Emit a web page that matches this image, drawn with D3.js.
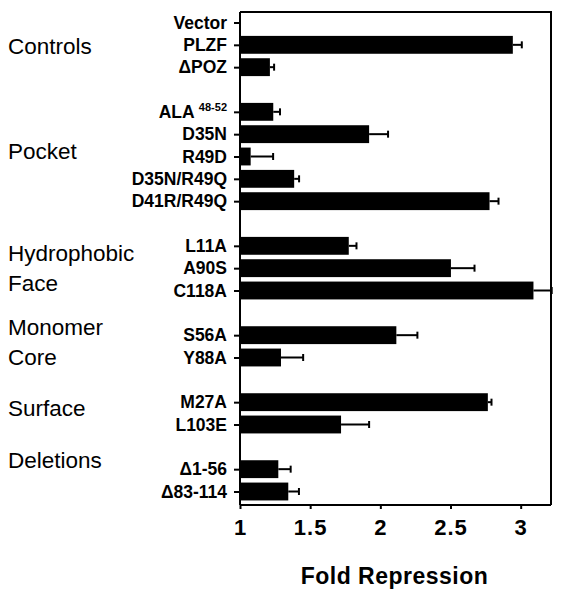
<!DOCTYPE html>
<html>
<head>
<meta charset="utf-8">
<script src="https://cdn.jsdelivr.net/npm/d3@7"></script>
<style>
  html, body { margin: 0; padding: 0; background: #fff; }
  svg { display: block; font-family: "Liberation Sans", Arial, Helvetica, sans-serif; }
</style>
</head>
<body>
<svg id="chart" width="563" height="598"></svg>
<script>
// ---- data ----
const labels = ["Vector", "PLZF", "ΔPOZ", "ALA", "D35N", "R49D", "D35N/R49Q", "D41R/R49Q",
  "L11A", "A90S", "C118A", "S56A", "Y88A", "M27A", "L103E", "Δ1-56", "Δ83-114"];
const values = [1.0, 2.944, 1.213, 1.237, 1.92, 1.076, 1.386, 2.778,
  1.775, 2.503, 3.091, 2.114, 1.292, 2.766, 1.72, 1.273, 1.344];
const errors = [0, 0.064, 0.03, 0.048, 0.135, 0.16, 0.035, 0.064,
  0.055, 0.168, 0.13, 0.15, 0.158, 0.026, 0.2, 0.088, 0.076];
const groupNames = [["Controls"], ["Pocket"], ["Hydrophobic", "Face"], ["Monomer", "Core"], ["Surface"], ["Deletions"]];
const groupSizes = [3, 5, 3, 2, 2, 2];
const xTicks = [1, 1.5, 2, 2.5, 3];
const xTitle = "Fold Repression";

// ---- layout ----
const frame = { left: 240, right: 551, top: 12, bottom: 505 };
const groupLabelSlot = [1.05, 5.75, 11.0, 14.3, 17.25, 19.6];

// slot index per row (one empty slot between groups)
const slots = [];
let s = 0;
groupSizes.forEach((n, g) => {
  for (let i = 0; i < n; i++) slots.push(s++);
  s++;
});
const nSlots = s - 1; // last gap not counted

const svg = d3.select("#chart");
const x = d3.scaleLinear().domain([1, 3.216]).range([frame.left, frame.right]);
const y = d3.scaleLinear().domain([0, nSlots - 1]).range([22.5, 491.5]);
const step = y(1) - y(0);
const barH = step * 0.8;

const rows = labels.map((l, i) => ({ label: l, value: values[i], err: errors[i], slot: slots[i] }));

// bars
svg.append("g").selectAll("rect").data(rows.filter(d => d.value > 1)).join("rect")
  .attr("x", x(1))
  .attr("y", d => y(d.slot) - barH / 2)
  .attr("width", d => x(d.value) - x(1))
  .attr("height", barH)
  .attr("fill", "#000");

// error bars
const eg = svg.append("g").attr("stroke", "#000").attr("stroke-width", 2);
rows.filter(d => d.err > 0).forEach(d => {
  eg.append("line")
    .attr("x1", x(d.value)).attr("x2", x(d.value + d.err))
    .attr("y1", y(d.slot)).attr("y2", y(d.slot));
  eg.append("line")
    .attr("x1", x(d.value + d.err)).attr("x2", x(d.value + d.err))
    .attr("y1", y(d.slot) - 3.5).attr("y2", y(d.slot) + 3.5);
});

// frame (top and right)
svg.append("path")
  .attr("d", `M${frame.left},${frame.top}H${frame.right}V${frame.bottom}`)
  .attr("fill", "none").attr("stroke", "#000").attr("stroke-width", 2);

// bottom axis
const xAxis = svg.append("g")
  .attr("transform", `translate(0,${frame.bottom})`)
  .call(d3.axisBottom(x).tickValues(xTicks).tickSize(4).tickPadding(10).tickFormat(d3.format("")))
  .call(g => g.select(".domain").attr("stroke-width", 2).attr("d", `M${frame.left},0H${frame.right}`))
  .call(g => g.selectAll(".tick line").attr("stroke-width", 2));
xAxis.selectAll(".tick text")
  .attr("font-size", 22).attr("font-weight", "bold").attr("font-family", "Liberation Sans, Arial, sans-serif")
  .attr("fill", "#000").attr("letter-spacing", 1);

// left axis
const yAxis = svg.append("g")
  .attr("transform", `translate(${frame.left},0)`)
  .call(d3.axisLeft(y).tickValues(slots).tickSize(6).tickPadding(7)
    .tickFormat(v => labels[slots.indexOf(v)]))
  .call(g => g.select(".domain").attr("stroke-width", 2).attr("d", `M0,${frame.top}V${frame.bottom}`))
  .call(g => g.selectAll(".tick line").attr("stroke-width", 2));
yAxis.selectAll(".tick text")
  .attr("font-size", 17.5).attr("font-weight", "bold").attr("font-family", "Liberation Sans, Arial, sans-serif")
  .attr("fill", "#000");
// ALA superscript
yAxis.selectAll(".tick text").filter(v => labels[slots.indexOf(v)] === "ALA")
  .text(null)
  .call(t => {
    t.append("tspan").text("ALA ");
    t.append("tspan").attr("font-size", 11).attr("dy", "-0.6em").text("48-52");
  });

// group labels
groupNames.forEach((lines, g) => {
  const cy = y(groupLabelSlot[g]);
  const t = svg.append("text")
    .attr("x", 8).attr("font-size", 22.5).attr("fill", "#000");
  lines.forEach((ln, k) => {
    t.append("tspan").attr("x", 8)
      .attr("y", cy + (k - (lines.length - 1) / 2) * 30)
      .attr("dy", "0.35em").text(ln);
  });
});

// x title
svg.append("text")
  .attr("x", (frame.left + frame.right) / 2 - 1).attr("y", 584)
  .attr("text-anchor", "middle").attr("font-size", 23).attr("font-weight", "bold")
  .attr("fill", "#000").attr("letter-spacing", 0.5)
  .text(xTitle);
</script>
</body>
</html>
